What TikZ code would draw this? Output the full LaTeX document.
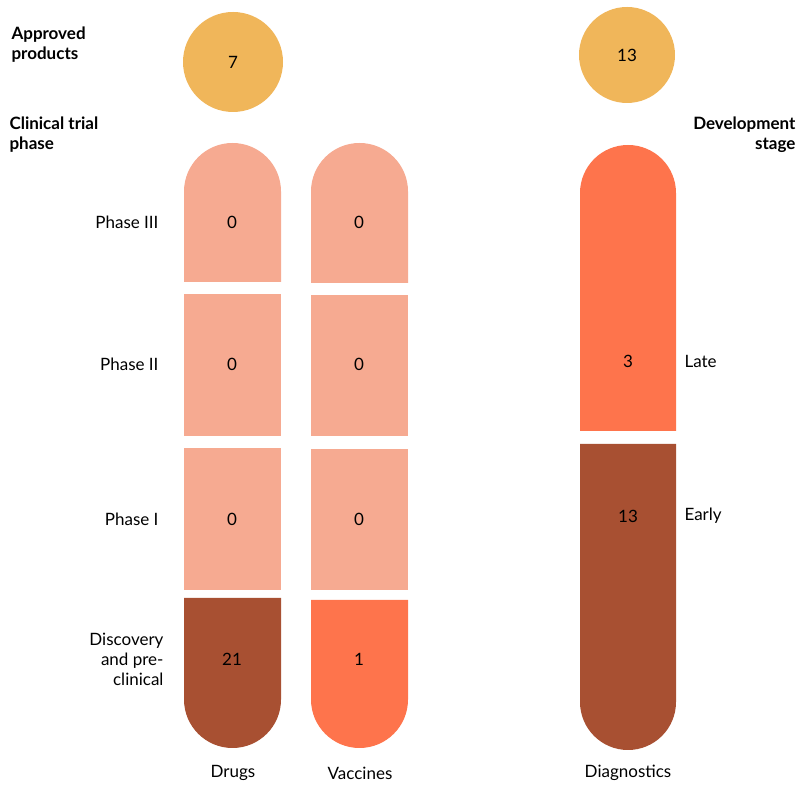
\documentclass[tikz,border=0pt]{standalone}
\usepackage{fontspec}
\setmainfont{Lato}
\definecolor{gold}{HTML}{F0B65A}
\definecolor{pale}{HTML}{F6AA91}
\definecolor{bright}{HTML}{FE744C}
\definecolor{rust}{HTML}{A85032}
\newcommand{\topcap}[5]{\fill[#5] (#1,#4) -- (#1,#3-#2/2) arc[start angle=180,end angle=0,radius=#2/2] -- (#1+#2,#4) -- cycle;}
\newcommand{\botcap}[5]{\fill[#5] (#1,#3) -- (#1,#4+#2/2) arc[start angle=180,end angle=360,radius=#2/2] -- (#1+#2,#3) -- cycle;}
\tikzset{
  num/.style={font=\fontsize{17}{20}\selectfont},
  lab/.style={font=\fontsize{17}{20}\selectfont},
  head/.style={font=\bfseries\fontsize{17}{20}\selectfont,align=left}
}
\begin{document}
\begin{tikzpicture}[x=1pt,y=1pt]
\useasboundingbox (0,0) rectangle (808,805);
% approved
\fill[gold] (233,743) circle (50);
\fill[gold] (627,750) circle (48);
% drugs
\topcap{184}{97}{662}{523}{pale}
\fill[pale] (184,369) rectangle (281,511);
\fill[pale] (184,215) rectangle (281,357);
\botcap{184}{97}{207}{57}{rust}
% vaccines
\topcap{311}{97}{662}{522}{pale}
\fill[pale] (311,369) rectangle (408,510);
\fill[pale] (311,215) rectangle (408,356);
\botcap{311}{97}{205}{57}{bright}
% diagnostics
\topcap{580}{96}{660}{374}{bright}
\botcap{580}{96}{361}{55}{rust}
% numbers
\node[num] (n7) at (233,743) {7};
\node[num] (n13) at (627,750) {13};
\node[num] (d3) at (232,583) {0};
\node[num] (d2) at (232,441) {0};
\node[num] (d1) at (232,286) {0};
\node[num] (d0) at (232,146) {21};
\node[num] (v3) at (359,583) {0};
\node[num] (v2) at (359,441) {0};
\node[num] (v1) at (359,286) {0};
\node[num] (v0) at (359,146) {1};
\node[num] (gl) at (628,444) {3};
\node[num] (ge) at (628,289) {13};
% labels
\node[head,anchor=west] (appr) at (8,760) {Approved\\products};
\node[head,anchor=west] (clin) at (6,670) {Clinical trial\\phase};
\node[head,anchor=east,align=right] (dev) at (799,670) {Development\\stage};
\node[lab,anchor=east] (p3) at (162,583) {Phase III};
\node[lab,anchor=east] (p2) at (162,441) {Phase II};
\node[lab,anchor=east] (p1) at (162,286) {Phase I};
\node[lab,anchor=east,align=right] (p0) at (167,146) {Discovery\\and pre-\\clinical};
\node[lab,anchor=west] (late) at (681,444) {Late};
\node[lab,anchor=west] (early) at (681,289) {Early};
\node[lab] (drugs) at (233,32) {Drugs};
\node[lab] (vacc) at (360,32) {Vaccines};
\node[lab] (diag) at (628,32) {Diagnostics};
\end{tikzpicture}
\end{document}
